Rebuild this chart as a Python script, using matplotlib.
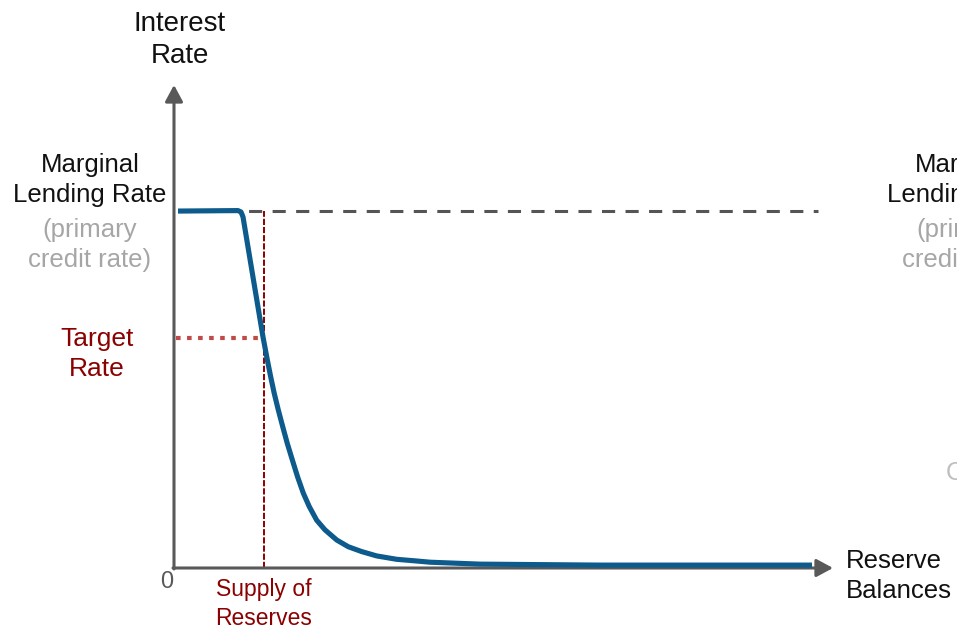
import matplotlib
matplotlib.use("Agg")
import matplotlib.pyplot as plt

plt.rcParams['font.family'] = ['Liberation Sans', 'DejaVu Sans']

# ---- data (x: reserve balances, y: interest rate; axis arrows at x=100, y=10) ----
reserves = [0.61, 9.71, 10.17, 10.47, 11.99, 13.51, 14.16, 14.67, 15.22, 15.83,
            16.49, 17.19, 17.95, 18.77, 19.62, 20.53, 21.65, 22.91, 24.69,
            26.45, 28.48, 30.76, 33.79, 36.83, 38.85, 46.43, 64.64, 96.81]
rate = [7.39, 7.40, 7.37, 7.27, 6.02, 4.78, 4.31, 3.96, 3.61, 3.27,
        2.93, 2.58, 2.24, 1.88, 1.55, 1.27, 0.99, 0.79, 0.58,
        0.44, 0.34, 0.25, 0.18, 0.145, 0.12, 0.08, 0.06, 0.06]
marginal_rate = 7.39
target_rate = 4.76
supply = 13.66
x_end = 100
y_end = 10

px_x = 6.59   # pixels per x unit
px_y = 48.3   # pixels per y unit

W, H = 957, 631
fig = plt.figure(figsize=(W / 100, H / 100), dpi=100)
ax = fig.add_axes([0, 0, 1, 1])
ax.set_xlim(-174 / px_x, (W - 174) / px_x)
ax.set_ylim((568 - H) / px_y, 568 / px_y)
ax.axis('off')

axis_col = '#595959'

# axes with arrows
arrow_kw = dict(arrowstyle='-|>,head_length=0.5,head_width=0.27', color=axis_col,
                lw=2.2, mutation_scale=20, shrinkA=0, shrinkB=0)
ax.annotate('', xy=(0, y_end), xytext=(0, -0.02), arrowprops=arrow_kw, zorder=3)
ax.annotate('', xy=(x_end, 0), xytext=(-0.15, 0), arrowprops=arrow_kw, zorder=3)

# marginal lending rate dashed line
ax.plot([0.6, 97.7], [marginal_rate, marginal_rate], color='#555555', lw=2.2,
        dashes=(4.3, 3.4), dash_capstyle='butt', zorder=2)

# supply of reserves vertical
ax.plot([supply, supply], [0, marginal_rate], color='#8b0000', lw=1.4,
        dashes=(3.2, 1.0), zorder=2)

# target rate dotted
ax.plot([0.3, supply], [target_rate, target_rate], color='#be4b48', lw=3.0,
        dashes=(1.1, 1.55), dash_capstyle='butt', zorder=2)

# demand curve
ax.plot(reserves, rate, color='#0d5b8c', lw=3.7, solid_joinstyle='round',
        solid_capstyle='butt', zorder=4)

# texts
def px(xp, yp):
    return (xp - 174) / px_x, (568 - yp) / px_y

LS = 1.33
ax.text(*px(180, 40), 'Interest\nRate', ha='center', va='center', fontsize=20,
        color='#111111', linespacing=LS)
ax.text(*px(90, 180), 'Marginal\nLending Rate', ha='center', va='center',
        fontsize=18.5, color='#111111', linespacing=LS)
ax.text(*px(90, 245), '(primary\ncredit rate)', ha='center', va='center',
        fontsize=18.5, color='#a6a6a6', linespacing=LS)
ax.text(*px(97, 354), 'Target\nRate', ha='center', va='center', fontsize=19,
        color='#8b0000', linespacing=1.3)
ax.text(*px(167, 582), '0', ha='center', va='center', fontsize=17,
        color=axis_col)
ax.text(*px(264, 604), 'Supply of\nReserves', ha='center', va='center',
        fontsize=16.5, color='#8b0000', linespacing=1.3)
ax.text(*px(846, 576), 'Reserve\nBalances', ha='left', va='center',
        fontsize=18.5, color='#111111', linespacing=LS)

# duplicated labels cut off at right edge
ax.text(*px(964, 180), 'Marginal\nLending Rate', ha='center', va='center',
        fontsize=18.5, color='#111111', linespacing=LS, clip_on=False)
ax.text(*px(964, 245), '(primary\ncredit rate)', ha='center', va='center',
        fontsize=18.5, color='#a6a6a6', linespacing=LS, clip_on=False)
ax.text(*px(946, 473), 'C', ha='left', va='center', fontsize=18.5,
        color='#bfbfbf')

fig.savefig('out.png', dpi=100)
